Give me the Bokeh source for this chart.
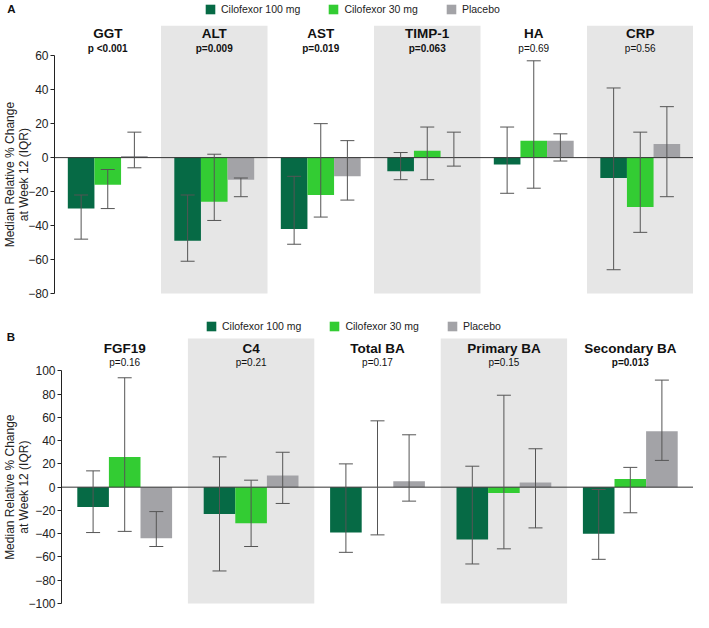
import math
from bokeh.plotting import figure
from bokeh.models import (ColumnDataSource, Range1d, Whisker, TeeHead,
                          Legend, LegendItem, SingleIntervalTicker)
from bokeh.transform import dodge
from bokeh.layouts import column
from bokeh.embed import file_html
from bokeh.resources import INLINE
from bokeh.core.properties import value

# ---------------- Panel A data ----------------
markers_a = ["GGT", "ALT", "AST", "TIMP-1", "HA", "CRP"]
pvals_a = ["p <0.001", "p=0.009", "p=0.019", "p=0.063", "p=0.69", "p=0.56"]
pstyle_a = ["bold", "bold", "bold", "bold", "normal", "normal"]
med100_a = [-30, -49, -42, -8, -4, -12]
q1_100_a = [-48, -61, -51, -13, -21, -66]
q3_100_a = [-22, -22, -11, 3, 18, 41]
med30_a = [-16, -26, -22, 4, 10, -29]
q1_30_a = [-30, -37, -35, -13, -18, -44]
q3_30_a = [-7, 2, 20, 18, 57, 15]
medpl_a = [1, -13, -11, 0, 10, 8]
q1pl_a = [-6, -23, -25, -5, -2, -23]
q3pl_a = [15, -12, 10, 15, 14, 30]
shaded_a = ["ALT", "TIMP-1", "CRP"]

# ---------------- Panel B data ----------------
markers_b = ["FGF19", "C4", "Total BA", "Primary BA", "Secondary BA"]
pvals_b = ["p=0.16", "p=0.21", "p=0.17", "p=0.15", "p=0.013"]
pstyle_b = ["normal", "normal", "normal", "normal", "bold"]
med100_b = [-17, -23, -39, -45, -40]
q1_100_b = [-39, -72, -56, -66, -62]
q3_100_b = [14, 26, 20, 18, -2]
med30_b = [26, -31, 0, -5, 7]
q1_30_b = [-38, -51, -41, -53, -22]
q3_30_b = [94, 6, 57, 79, 17]
medpl_b = [-44, 10, 5, 4, 48]
q1pl_b = [-51, -14, -12, -35, 23]
q3pl_b = [-21, 30, 45, 33, 92]
shaded_b = ["C4", "Primary BA"]

series_names = ["Cilofexor 100 mg", "Cilofexor 30 mg", "Placebo"]
colors = ["#066a45", "#33cc33", "#a3a3a7"]
offsets = [-0.25, 0.0, 0.25]
ylabel_lines = ["Median Relative % Change", "at Week 12 (IQR)"]

FONT = "Liberation Sans"
ERR = "#555555"
FIG_W = 693


def make_panel(letter, markers, pvals, pstyles, meds, q1s, q3s, shaded,
               y_lo, y_frame_lo, y_top, y_axis_hi, band_top, title_y, p_y, letter_y,
               height, border_bottom, axis_px, legend_loc, letter_px, ylab_px):
    n = len(markers)
    group_px = (FIG_W - axis_px) / n
    left = axis_px / group_px

    def px_to_x(px):
        return -left + px / group_px

    centers = [i + 0.5 for i in range(n)]
    data = dict(marker=markers, xc=centers, pval=pvals, pstyle=pstyles)
    for i in range(3):
        data[f"med{i}"] = meds[i]
        data[f"q1_{i}"] = q1s[i]
        data[f"q3_{i}"] = q3s[i]
    src = ColumnDataSource(data)

    p = figure(x_range=Range1d(-left, n), y_range=Range1d(y_frame_lo, y_top),
               width=FIG_W, height=height, output_backend="svg", toolbar_location=None,
               x_axis_location=None, min_border_left=0, min_border_right=0,
               min_border_top=0, min_border_bottom=border_bottom)
    p.outline_line_color = None
    p.xgrid.visible = False
    p.ygrid.visible = False

    # shaded bands
    band_src = ColumnDataSource(dict(xc=[markers.index(m) + 0.5 for m in shaded]))
    p.vbar(x="xc", width=1, bottom=y_lo, top=band_top, source=band_src,
           fill_color="#e6e6e6", line_color=None)

    renderers = []
    for i in range(3):
        r = p.vbar(x=dodge("xc", offsets[i]), top=f"med{i}", bottom=0,
                   width=0.25, source=src, fill_color=colors[i], line_color=None)
        renderers.append(r)

    # zero line from the axis to the right edge
    p.segment(x0=[0], x1=[n], y0=[0], y1=[0], line_color="#333333", line_width=1)

    for i in range(3):
        w = Whisker(source=src, base=dodge("xc", offsets[i]),
                    upper=f"q3_{i}", lower=f"q1_{i}", line_color=ERR, line_width=1,
                    upper_head=TeeHead(size=14, line_color=ERR, line_width=1),
                    lower_head=TeeHead(size=14, line_color=ERR, line_width=1),
                    level="annotation")
        p.add_layout(w)

    # titles and p-values
    p.text(x="xc", y=title_y, text="marker", source=src, text_font=value(FONT),
           text_font_size="13.5px", text_font_style="bold", text_align="center",
           text_baseline="middle", text_color="#111111")
    p.text(x="xc", y=p_y, text="pval", source=src, text_font=value(FONT),
           text_font_size="10px", text_font_style="pstyle", text_align="center",
           text_baseline="middle", text_color="#111111")

    # y axis drawn at x = 0 inside the frame
    ax = p.yaxis[0]
    ax.fixed_location = 0
    ax.bounds = (y_lo, y_axis_hi)
    ax.ticker = SingleIntervalTicker(interval=20)
    ax.minor_tick_line_color = None
    ax.major_tick_out = 4
    ax.major_tick_in = 0
    ax.major_label_standoff = 2
    ax.major_label_text_font = FONT
    ax.major_label_text_font_size = "12px"
    ax.major_label_text_color = "#222222"
    ax.axis_line_color = "#222222"
    ax.major_tick_line_color = "#222222"

    # legend
    legend = Legend(items=[LegendItem(label=series_names[i], renderers=[renderers[i]]) for i in range(3)],
                    orientation="horizontal", location=legend_loc, glyph_width=12, glyph_height=12,
                    label_standoff=5, spacing=27, padding=0, margin=0, label_height=12,
                    border_line_color=None, background_fill_alpha=0,
                    label_text_font=FONT, label_text_font_size="10.5px",
                    label_text_color="#222222")
    p.add_layout(legend)

    # panel letter
    p.text(x=[px_to_x(letter_px)], y=[letter_y], text=[letter], text_font=value(FONT),
           text_font_size="11.5px", text_font_style="bold", text_align="center",
           text_baseline="middle", text_color="#111111")
    # y axis title, two lines
    p.text(x=[px_to_x(v) for v in ylab_px], y=[(y_lo + y_axis_hi) / 2] * 2, text=ylabel_lines,
           angle=math.pi / 2, text_font=value(FONT), text_font_size="12px",
           text_align="center", text_baseline="middle", text_color="#222222")
    return p


pA = make_panel("A", markers_a, pvals_a, pstyle_a,
                [med100_a, med30_a, medpl_a], [q1_100_a, q1_30_a, q1pl_a], [q3_100_a, q3_30_a, q3pl_a],
                shaded_a, y_lo=-80, y_frame_lo=-87.06, y_top=92.5, y_axis_hi=60, band_top=77.6,
                title_y=73.0, p_y=64.4, letter_y=87.3, height=305, border_bottom=0, axis_px=54,
                legend_loc=(204, 290), letter_px=11, ylab_px=[9, 23.6])

pB = make_panel("B", markers_b, pvals_b, pstyle_b,
                [med100_b, med30_b, medpl_b], [q1_100_b, q1_30_b, q1pl_b], [q3_100_b, q3_30_b, q3pl_b],
                shaded_b, y_lo=-100, y_frame_lo=-107.7, y_top=156.1, y_axis_hi=100, band_top=127.8,
                title_y=119.5, p_y=107.5, letter_y=129.3, height=307, border_bottom=0, axis_px=61,
                legend_loc=(205, 280), letter_px=10.5, ylab_px=[9, 23.6])

layout = column(pA, pB, spacing=0)
open("out.html", "w").write(file_html(layout, INLINE))
